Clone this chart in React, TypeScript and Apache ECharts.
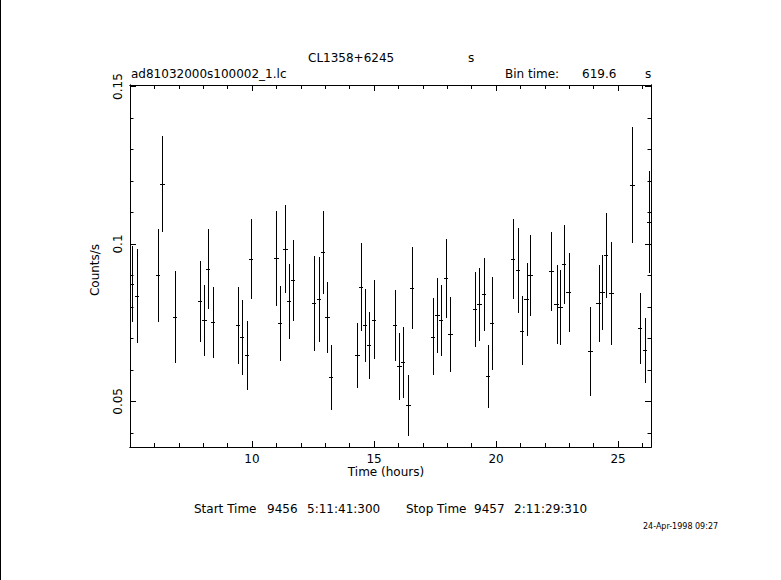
import React, { useEffect, useRef } from "react";
import * as echarts from "echarts";

// Light curve: bin centre (hours), count rate (counts/s), 1-sigma error
const TIME_HOURS = [
  5.09, 5.3, 6.16, 6.33, 6.86, 7.88, 8.05, 8.21, 8.41, 9.44, 9.6, 9.81, 9.97,
  11.0, 11.16, 11.37, 11.53, 11.69, 12.55, 12.76, 12.92, 13.09, 13.25,
  14.32, 14.48, 14.64, 14.81, 15.01, 15.87, 16.04, 16.2, 16.41, 16.57,
  17.43, 17.6, 17.76, 17.96, 18.13, 19.15, 19.32, 19.52, 19.68, 19.85,
  20.71, 20.91, 21.08, 21.25, 21.41, 22.27, 22.48, 22.64, 22.8, 22.97,
  23.87, 24.2, 24.36, 24.52, 24.73, 25.59, 25.91, 26.12, 26.28,
];
const COUNTS = [
  0.0872, 0.0835, 0.09, 0.1191, 0.0767, 0.0818, 0.0757, 0.0919, 0.0751, 0.0741, 0.0703, 0.0646, 0.0951,
  0.0954, 0.0748, 0.0983, 0.0818, 0.0884, 0.0811, 0.0824, 0.0974, 0.0767, 0.0576,
  0.0646, 0.0862, 0.0741, 0.0678, 0.076, 0.0741, 0.0611, 0.0624, 0.0487, 0.0859,
  0.0706, 0.0773, 0.0757, 0.0891, 0.0713, 0.0792, 0.0808, 0.084, 0.0579, 0.0748,
  0.0951, 0.0916, 0.0725, 0.0824, 0.09, 0.0913, 0.0808, 0.0799, 0.0935, 0.0846,
  0.0659, 0.0811, 0.0846, 0.0964, 0.0843, 0.1187, 0.0732, 0.0662, 0.107,
];
const ERRORS = [
  0.012, 0.015, 0.0147, 0.0153, 0.0146, 0.0128, 0.0113, 0.0127, 0.0113, 0.0123, 0.0119, 0.0109, 0.0127,
  0.0151, 0.0119, 0.014, 0.0119, 0.0128, 0.015, 0.0135, 0.0132, 0.0113, 0.0104,
  0.0103, 0.014, 0.0116, 0.0106, 0.0127, 0.0112, 0.0107, 0.0112, 0.0096, 0.013,
  0.0122, 0.0119, 0.0112, 0.0125, 0.0119, 0.0119, 0.0116, 0.0116, 0.01, 0.0147,
  0.0127, 0.0135, 0.0109, 0.0116, 0.013, 0.0125, 0.0125, 0.0119, 0.0125, 0.0125,
  0.0141, 0.0122, 0.0119, 0.0135, 0.0163, 0.0185, 0.0112, 0.0104, 0.0162,
];
const BIN_TIME_S = 619.6;
const HALF_BIN_HOURS = BIN_TIME_S / 3600 / 2;

const X_MIN = 5.0;
const X_MAX = 26.35;
const Y_MIN = 0.0355;
const Y_MAX = 0.1505;
const X_MAJOR = [10, 15, 20, 25];
const X_MINOR = [6, 7, 8, 9, 11, 12, 13, 14, 16, 17, 18, 19, 21, 22, 23, 24, 26];
const Y_MAJOR = [0.05, 0.1, 0.15];
const Y_MINOR = [0.04, 0.06, 0.07, 0.08, 0.09, 0.11, 0.12, 0.13, 0.14];

const FONT = "DejaVu Sans";
const INK = "#000";

function xAxisDef(position: string, ticks: number[], len: number, labels: boolean) {
  return {
    type: "value",
    position,
    min: X_MIN,
    max: X_MAX,
    axisLine: { show: true, lineStyle: { color: INK, width: 1 } },
    splitLine: { show: false },
    axisTick: { show: true, inside: true, length: len, customValues: ticks, lineStyle: { color: INK, width: 1 } },
    axisLabel: labels
      ? { show: true, customValues: X_MAJOR, color: INK, fontFamily: FONT, fontSize: 12, margin: 6 }
      : { show: false },
  };
}

function yAxisDef(position: string, ticks: number[], len: number, labels: boolean) {
  return {
    type: "value",
    position,
    min: Y_MIN,
    max: Y_MAX,
    axisLine: { show: true, lineStyle: { color: INK, width: 1 } },
    splitLine: { show: false },
    axisTick: { show: true, inside: true, length: len, customValues: ticks, lineStyle: { color: INK, width: 1 } },
    axisLabel: labels
      ? { show: true, customValues: Y_MAJOR, rotate: 90, color: INK, fontFamily: FONT, fontSize: 12, margin: 6 }
      : { show: false },
  };
}

function txt(text: string, x: number, y: number, opts: any = {}) {
  return {
    type: "text",
    x,
    y,
    rotation: opts.rotation || 0,
    style: {
      text,
      fill: INK,
      font: `${opts.size || 12}px "${FONT}"`,
      textAlign: opts.align || "left",
      textVerticalAlign: "middle",
    },
  };
}

export default function App() {
  const ref = useRef<HTMLDivElement>(null);
  useEffect(() => {
    if (!ref.current) return;
    const chart = echarts.init(ref.current, null, { renderer: "svg" });
    const data = TIME_HOURS.map((t, i) => [t, COUNTS[i], ERRORS[i]]);
    chart.setOption({
      animation: false,
      backgroundColor: "#fff",
      grid: { left: 130, right: 130, top: 85, bottom: 133, containLabel: false },
      xAxis: [
        xAxisDef("bottom", X_MAJOR, 6, true),
        xAxisDef("bottom", X_MINOR, 4, false),
        xAxisDef("top", X_MAJOR, 6, false),
        xAxisDef("top", X_MINOR, 4, false),
      ],
      yAxis: [
        yAxisDef("left", Y_MAJOR, 6, true),
        yAxisDef("left", Y_MINOR, 3.5, false),
        yAxisDef("right", Y_MAJOR, 6, false),
        yAxisDef("right", Y_MINOR, 3.5, false),
      ],
      series: [
        {
          type: "custom",
          xAxisIndex: 0,
          yAxisIndex: 0,
          data,
          clip: false,
          renderItem: (params: any, api: any) => {
            const t = api.value(0);
            const v = api.value(1);
            const e = api.value(2);
            const top = api.coord([t, v + e]);
            const bot = api.coord([t, v - e]);
            const l = api.coord([t - HALF_BIN_HOURS, v]);
            const r = api.coord([t + HALF_BIN_HOURS, v]);
            const cx = Math.round(top[0]) + 0.5;
            const cy = Math.round(l[1]) + 0.5;
            return {
              type: "group",
              children: [
                {
                  type: "line",
                  shape: { x1: cx, y1: Math.round(top[1]), x2: cx, y2: Math.round(bot[1]) },
                  style: { stroke: INK, lineWidth: 1 },
                },
                {
                  type: "line",
                  shape: { x1: Math.round(l[0]), y1: cy, x2: Math.round(r[0]), y2: cy },
                  style: { stroke: INK, lineWidth: 1 },
                },
              ],
            };
          },
        },
      ],
      graphic: [
        { type: "line", shape: { x1: 0.5, y1: 0, x2: 0.5, y2: 580 }, style: { stroke: INK, lineWidth: 1 } },
        txt("CL1358+6245", 308, 58),
        txt("s", 468, 58),
        txt("ad81032000s100002_1.lc", 131, 74),
        txt("Bin time:", 505, 74),
        txt("619.6", 582, 74),
        txt("s", 645, 74),
        txt("Time (hours)", 386, 472, { align: "center" }),
        txt("Counts/s", 95, 270, { align: "center", rotation: Math.PI / 2 }),
        txt("Start Time", 194, 509),
        txt("9456", 267, 509),
        txt("5:11:41:300", 307, 509),
        txt("Stop Time", 406, 509),
        txt("9457", 474, 509),
        txt("2:11:29:310", 514, 509),
        txt("24-Apr-1998 09:27", 643, 526, { size: 8 }),
      ],
    });
    return () => chart.dispose();
  }, []);
  return (
    <div
      ref={ref}
      style={{ position: "absolute", left: 0, top: 0, width: 781, height: 580, background: "#fff" }}
    />
  );
}
